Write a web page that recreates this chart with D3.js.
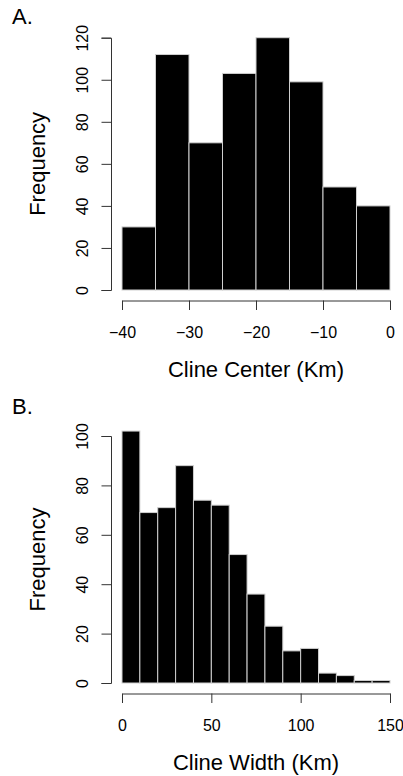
<!DOCTYPE html>
<html>
<head>
<meta charset="utf-8">
<script src="https://cdn.jsdelivr.net/npm/d3@7"></script>
<style>
  html, body { margin: 0; padding: 0; background: #fff; }
  svg { display: block; }
  text { font-family: "Liberation Sans", Arial, Helvetica, sans-serif; fill: #000; }
</style>
</head>
<body>
<svg id="fig" width="403" height="776"></svg>
<script>
// Histogram A: cline centre positions (Km)
const centerBreaks = [-40, -35, -30, -25, -20, -15, -10, -5, 0];
const centerCounts = [30, 112, 70, 103, 120, 99, 49, 40];
const centerXTicks = [-40, -30, -20, -10, 0];
const centerYTicks = [0, 20, 40, 60, 80, 100, 120];

// Histogram B: cline widths (Km)
const widthBreaks = [0, 10, 20, 30, 40, 50, 60, 70, 80, 90, 100, 110, 120, 130, 140, 150];
const widthCounts = [102, 69, 71, 88, 74, 72, 52, 36, 23, 13, 14, 4, 3, 1, 1];
const widthXTicks = [0, 50, 100, 150];
const widthYTicks = [0, 20, 40, 60, 80, 100];

const svg = d3.select("#fig");

function histogram(opts) {
  const g = svg.append("g");
  const { breaks, counts, xTicks, yTicks, top, letter, xTitle } = opts;

  // plot region: data spans x 122..390; y zero line sits 10px above the x axis
  const x = d3.scaleLinear().domain([breaks[0], breaks[breaks.length - 1]]).range([122, 390]);
  const y = d3.scaleLinear().domain([0, yTicks[yTicks.length - 1]])
    .range([top + opts.zeroY, top + opts.maxY]);

  const bins = counts.map((c, i) => ({ x0: breaks[i], x1: breaks[i + 1], n: c }));

  g.selectAll("rect.bar").data(bins).join("rect")
    .attr("class", "bar")
    .attr("x", d => x(d.x0))
    .attr("width", d => x(d.x1) - x(d.x0))
    .attr("y", d => y(d.n))
    .attr("height", d => y(0) - y(d.n))
    .attr("fill", "#000")
    .attr("stroke", "#cfcfcf")
    .attr("stroke-width", 1);

  const axisY = top + opts.zeroY + 10.5;
  const xAxis = d3.axisBottom(x).tickValues(xTicks).tickSize(9.5).tickSizeOuter(9.5)
    .tickPadding(0).tickFormat(d3.format("d"));
  const gx = g.append("g").attr("transform", `translate(0,${axisY})`).call(xAxis);
  gx.selectAll("path, line").attr("stroke", "#333").attr("stroke-width", 1);
  gx.selectAll("text").attr("y", 37).attr("dy", 0)
    .style("font-size", "16px").attr("fill", "#000");

  const axisX = 111;
  const yAxis = d3.axisLeft(y).tickValues(yTicks).tickSize(9.5).tickSizeOuter(9.5)
    .tickFormat(d3.format("d"));
  const gy = g.append("g").attr("transform", `translate(${axisX},0)`).call(yAxis);
  gy.selectAll("path, line").attr("stroke", "#333").attr("stroke-width", 1);
  gy.selectAll("text")
    .attr("transform", "rotate(-90)")
    .attr("x", 0).attr("y", -23).attr("dy", 0)
    .attr("text-anchor", "middle")
    .style("font-size", "16px").attr("fill", "#000");
  gy.select(".domain").attr("fill", "none");
  gx.select(".domain").attr("fill", "none");

  // axis titles
  g.append("text")
    .attr("x", (x.range()[0] + x.range()[1]) / 2)
    .attr("y", axisY + 76)
    .attr("text-anchor", "middle")
    .style("font-size", "22px")
    .text(xTitle);

  const midY = (y.range()[0] + y.range()[1]) / 2;
  g.append("text")
    .attr("transform", `translate(45,${midY}) rotate(-90)`)
    .attr("text-anchor", "middle")
    .style("font-size", "22px")
    .text("Frequency");

  // panel letter
  g.append("text")
    .attr("x", 12).attr("y", top + 23.5)
    .style("font-size", "22px")
    .text(letter);
}

histogram({
  breaks: centerBreaks, counts: centerCounts, xTicks: centerXTicks, yTicks: centerYTicks,
  top: 0, zeroY: 290, maxY: 37.7, letter: "A.", xTitle: "Cline Center (Km)"
});

histogram({
  breaks: widthBreaks, counts: widthCounts, xTicks: widthXTicks, yTicks: widthYTicks,
  top: 390, zeroY: 293, maxY: 46, letter: "B.", xTitle: "Cline Width (Km)"
});
</script>
</body>
</html>
